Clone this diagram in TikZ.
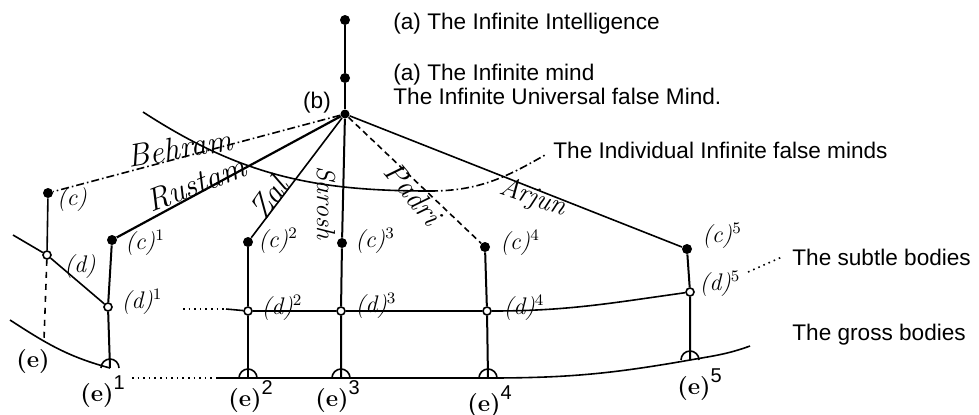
\documentclass[tikz,border=0pt]{standalone}
\usepackage{fontspec}
\setsansfont{Liberation Sans}
\newcommand{\esup}[1]{(e)\raisebox{0.5em}{\mdseries\sffamily\fontsize{10}{10}\selectfont #1}}

\begin{document}
\begin{tikzpicture}[x=0.5pt, y=-0.5pt,
    % dots and rings of the levels
    topdot/.style={circle, fill=black, inner sep=0pt, minimum size=5pt},
    junction/.style={circle, fill=black, inner sep=0pt, minimum size=4.5pt},
    cdot/.style={circle, fill=black, inner sep=0pt, minimum size=5pt},
    dring/.style={circle, draw=black, line width=0.8pt, inner sep=0pt, minimum size=4pt},
    % texts
    printed/.style={font=\sffamily\fontsize{11.3}{12}\selectfont, text=black, inner sep=0pt},
    hand/.style={font=\itshape\fontsize{12}{13}\selectfont, inner sep=0pt},
    persname/.style={font=\itshape\fontsize{16}{17}\selectfont, inner sep=0pt},
    elab/.style={font=\bfseries\fontsize{12}{12}\selectfont, inner sep=0pt},
    % lines
    line/.style={line width=0.8pt, draw=black},
    minddash/.style={dash pattern=on 4pt off 1.5pt on 0.8pt off 1.5pt}
]
\useasboundingbox (0,0) rectangle (979,414);

% --- TOP: INTELLIGENCE, MIND AND (b) ---
\node[topdot] (a1) at (345,20) {};
\node[topdot] (a2) at (345,78) {};
\node[junction] (b) at (345,114) {};
\draw[line] (a1) -- (a2) -- (b);

\node[printed, anchor=base west] (tint) at (393,29) {(a) The Infinite Intelligence};
\node[printed, anchor=base west] (tmind) at (393,80) {(a) The Infinite mind};
\node[printed, anchor=base west] (tuniv) at (393,104) {The Infinite Universal false Mind.};
\node[printed] (lb) at (317,103) {(b)};

% --- INDIVIDUAL MINDS (c) ---
\node[cdot] (c0) at (48,193) {};
\node[cdot] (c1) at (112,240) {};
\node[cdot] (c2) at (248,242) {};
\node[cdot] (c3) at (342,243) {};
\node[cdot] (c4) at (485,247) {};
\node[cdot] (c5) at (687,249) {};

\node[hand] (lc0) at (72,200) {(c)};
\node[hand] (lc1) at (145,243) {(c)$^{1}$};
\node[hand] (lc2) at (278,241) {(c)$^{2}$};
\node[hand] (lc3) at (375,241) {(c)$^{3}$};
\node[hand] (lc4) at (520,243) {(c)$^{4}$};
\node[hand] (lc5) at (722,236) {(c)$^{5}$};

\draw[line, minddash] (b) -- (c0);
\draw[line, line width=1.1pt] (b) -- (c1);
\draw[line] (b) -- (c2);
\draw[line, line width=1pt] (b) -- (c3);
\draw[line, densely dashed] (b) -- (c4);
\draw[line] (b) -- (c5);

\node[persname, rotate=10] (nbehram) at (180,148) {Behram};
\node[persname, rotate=21] (nrustam) at (196,184) {Rustam};
\node[persname, rotate=55] (nzal) at (269,198) {Zal};
\node[persname, font=\itshape\fontsize{13}{14}\selectfont, rotate=-90] (nsarosh) at (326,203) {Sarosh};
\node[persname, font=\itshape\fontsize{15}{16}\selectfont, rotate=-50] (npadri) at (413,193) {Padri};
\node[persname, font=\itshape\fontsize{14}{15}\selectfont, rotate=-19] (narjun) at (533,198) {Arjun};

% arc of the individual false minds
\coordinate (m0) at (143,112);
\coordinate (m1) at (430,191);
\coordinate (m2) at (545,155);
\draw[line] (m0) to[out=-33, in=180] (m1);
\draw[line, minddash] (m1) to[out=0, in=-150] (m2);
\node[printed, anchor=base west] (tindiv) at (553,158) {The Individual Infinite false minds};

% --- SUBTLE BODIES (d) ---
\node[dring] (d0) at (47,255) {};
\node[dring] (d1) at (108,307) {};
\node[dring] (d2) at (248,311) {};
\node[dring] (d3) at (341,311) {};
\node[dring] (d4) at (487,311) {};
\node[dring] (d5) at (690,292) {};

\node[hand] (ld0) at (80,267) {(d)};
\node[hand] (ld1) at (142,302) {(d)$^{1}$};
\node[hand] (ld2) at (282,308) {(d)$^{2}$};
\node[hand] (ld3) at (376,306) {(d)$^{3}$};
\node[hand] (ld4) at (524,308) {(d)$^{4}$};
\node[hand] (ld5) at (720,284) {(d)$^{5}$};

\coordinate (s0) at (13,235);
\coordinate (s1) at (183,309);
\coordinate (s2) at (226,309);
\coordinate (s3) at (748,272);
\coordinate (s4) at (782,257);
\draw[line] (s0) -- (d0) -- (d1);
\draw[line, dotted] (s1) -- (s2);
\draw[line] (s2) -- (d2) -- (d3) -- (d4);
\draw[line] (d4) to[out=0, in=188] (d5);
\draw[line, dotted] (s3) -- (s4);
\node[printed, anchor=base west] (tsubtle) at (792,265) {The subtle bodies};

% --- GROSS BODIES (e) ---
\coordinate (e0) at (44,340);
\coordinate (e1) at (110,368);
\coordinate (e2) at (248,378);
\coordinate (e3) at (341,378);
\coordinate (e4) at (488,378);
\coordinate (e5) at (690,360);

\node[elab] (le0) at (33,362) {(e)};
\node[elab, anchor=base west] (le1) at (80,401) {\esup{1}};
\node[elab, anchor=base west] (le2) at (228,406) {\esup{2}};
\node[elab, anchor=base west] (le3) at (315,406) {\esup{3}};
\node[elab, anchor=base west] (le4) at (467,411) {\esup{4}};
\node[elab, anchor=base west] (le5) at (677,394) {\esup{5}};

\coordinate (g0) at (10,320);
\coordinate (g1) at (132,378);
\coordinate (g2) at (216,378);
\coordinate (g3) at (750,346);
\draw[line] (g0) to[out=-33, in=165] (e1);
\draw[line, dotted] (g1) -- (g2);
\draw[line] (g2) -- (e2) -- (e3) -- (e4);
\draw[line] (e4) to[out=0, in=190] (e5);
\draw[line] (e5) to[out=10, in=200] (g3);
\node[printed, anchor=base west] (tgross) at (792,340) {The gross bodies};

% --- COLUMNS c -- d -- e ---
\draw[line] (c0) -- (d0);
\draw[line, dashed] (d0) -- (e0);
\foreach \i in {1,...,5}
    \draw[line, line width=1pt] (c\i) -- (d\i) -- (e\i);
\foreach \i in {1,...,5}
    \draw[line] (e\i) ++(-4.5pt,0) arc[start angle=180, end angle=0, radius=4.5pt];

\end{tikzpicture}
\end{document}
